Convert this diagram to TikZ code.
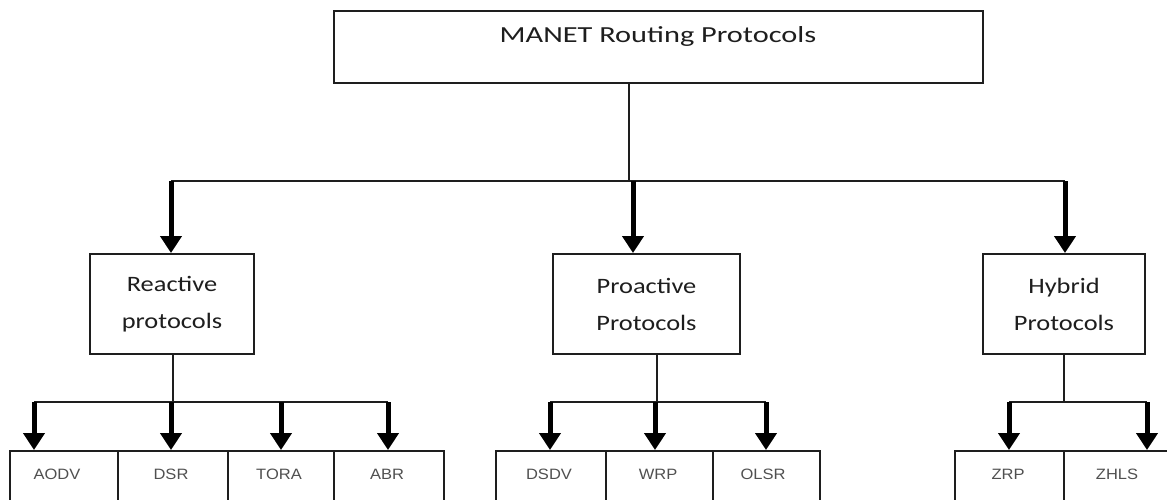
\documentclass[tikz,border=0pt]{standalone}
\usepackage{fontspec}
\setmainfont{Carlito}
\newfontfamily\topf[FakeStretch=1.32]{Carlito}
\newfontfamily\midf[FakeStretch=1.2]{Carlito}
\newfontfamily\leaff[FakeStretch=1.1]{Liberation Sans}
\usetikzlibrary{arrows.meta}
\definecolor{ink}{HTML}{1E1E1E}
\definecolor{leafgray}{HTML}{505050}
\begin{document}
\begin{tikzpicture}[x=1pt,y=-1pt,
  box/.style={draw=ink, line width=2pt, inner sep=0pt, anchor=north west, fill=white},
  midbox/.style={box, minimum height=100pt, align=center, text=ink,
     font=\midf\fontsize{22}{37}\selectfont},
  leafbox/.style={box, minimum width=#1, minimum height=80pt},
  leaftext/.style={text=leafgray, font=\leaff\fontsize{15}{17}\selectfont, inner sep=0pt},
  wire/.style={draw=ink, line width=2pt},
  heavy/.style={draw=black, line width=5pt, -{Triangle[width=21pt,length=17pt]}}
]
\useasboundingbox (0,0) rectangle (1167,499);
\fill[white] (0,0) rectangle (1167,499);

% top box
\node[box, minimum width=649pt, minimum height=72pt] (top) at (333,10) {};
\node[text=ink, font=\topf\fontsize{23}{26}\selectfont, inner sep=0pt] (toptext) at (658,36) {MANET Routing Protocols};

% middle boxes
\node[midbox, minimum width=164pt] (reac) at (89,253) {Reactive\\protocols};
\node[midbox, minimum width=187pt] (pro) at (552,253) {Proactive\\Protocols};
\node[midbox, minimum width=162pt] (hyb) at (982,253) {Hybrid\\Protocols};

% leaf boxes
\node[leafbox=108pt] (aodv) at (9,450) {};
\node[leafbox=110pt] (dsr) at (117,450) {};
\node[leafbox=106pt] (tora) at (227,450) {};
\node[leafbox=110pt] (abr) at (333,450) {};
\node[leafbox=110pt] (dsdv) at (495,450) {};
\node[leafbox=107pt] (wrp) at (605,450) {};
\node[leafbox=107pt] (olsr) at (712,450) {};
\node[leafbox=109pt] (zrp) at (954,450) {};
\node[leafbox=120pt] (zhls) at (1063,450) {};

\node[leaftext] (taodv) at (57,474) {AODV};
\node[leaftext] (tdsr) at (171,474) {DSR};
\node[leaftext] (ttora) at (279,474) {TORA};
\node[leaftext] (tabr) at (387,474) {ABR};
\node[leaftext] (tdsdv) at (549,474) {DSDV};
\node[leaftext] (twrp) at (658,474) {WRP};
\node[leaftext] (tolsr) at (763,474) {OLSR};
\node[leaftext] (tzrp) at (1008,474) {ZRP};
\node[leaftext] (tzhls) at (1117,474) {ZHLS};

% level 1 bus
\coordinate (j0) at (629,181);
\coordinate (b1) at (171,181);
\coordinate (b2) at (633,181);
\coordinate (b3) at (1065,181);
\draw[wire] (top.south -| j0) -- (j0);
\draw[wire] (b1) -- (b3);
\draw[heavy] (b1) -- (b1 |- reac.north);
\draw[heavy] (b2) -- (b2 |- pro.north);
\draw[heavy] (b3) -- (b3 |- hyb.north);

% reactive bus
\coordinate (r0) at (173,402);
\coordinate (r1) at (34,402);
\coordinate (r2) at (171,402);
\coordinate (r3) at (281,402);
\coordinate (r4) at (388,402);
\draw[wire] (reac.south -| r0) -- (r0);
\draw[wire] (r1) -- (r4);
\draw[heavy] (r1) -- (r1 |- aodv.north);
\draw[heavy] (r2) -- (r2 |- dsr.north);
\draw[heavy] (r3) -- (r3 |- tora.north);
\draw[heavy] (r4) -- (r4 |- abr.north);

% proactive bus
\coordinate (p0) at (657,402);
\coordinate (p1) at (550,402);
\coordinate (p2) at (655,402);
\coordinate (p3) at (766,402);
\draw[wire] (pro.south -| p0) -- (p0);
\draw[wire] (p1) -- (p3);
\draw[heavy] (p1) -- (p1 |- dsdv.north);
\draw[heavy] (p2) -- (p2 |- wrp.north);
\draw[heavy] (p3) -- (p3 |- olsr.north);

% hybrid bus
\coordinate (h0) at (1064,402);
\coordinate (h1) at (1009,402);
\coordinate (h2) at (1147,402);
\draw[wire] (hyb.south -| h0) -- (h0);
\draw[wire] (h1) -- (h2);
\draw[heavy] (h1) -- (h1 |- zrp.north);
\draw[heavy] (h2) -- (h2 |- zhls.north);
\end{tikzpicture}
\end{document}
